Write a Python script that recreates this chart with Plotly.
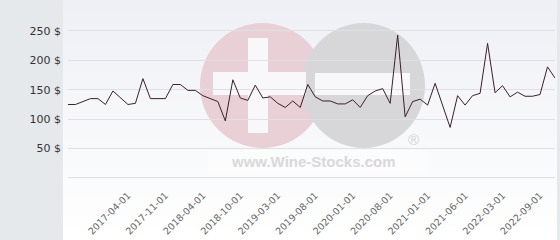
import plotly.graph_objects as go

dates = [
    "2016-07-01", "2016-08-01", "2016-09-01", "2016-10-01", "2016-11-01", "2016-12-01",
    "2017-01-01", "2017-03-01", "2017-04-01", "2017-05-01", "2017-06-01", "2017-07-01",
    "2017-09-01", "2017-11-01", "2017-12-01", "2018-01-01", "2018-02-01", "2018-03-01",
    "2018-04-01", "2018-05-01", "2018-06-01", "2018-07-01", "2018-09-01", "2018-10-01",
    "2018-11-01", "2018-12-01", "2019-01-01", "2019-02-01", "2019-03-01", "2019-04-01",
    "2019-05-01", "2019-06-01", "2019-07-01", "2019-08-01", "2019-09-01", "2019-10-01",
    "2019-11-01", "2019-12-01", "2020-01-01", "2020-02-01", "2020-03-01", "2020-06-01",
    "2020-07-01", "2020-08-01", "2020-09-01", "2020-10-01", "2020-11-01", "2020-12-01",
    "2021-01-01", "2021-02-01", "2021-03-01", "2021-04-01", "2021-05-01", "2021-06-01",
    "2021-09-01", "2021-11-01", "2021-12-01", "2022-01-01", "2022-03-01", "2022-04-01",
    "2022-05-01", "2022-06-01", "2022-07-01", "2022-09-01", "2022-10-01", "2022-11-01",
]
prices = [
    125, 125, 130, 135, 135, 125, 148, 136, 125, 127, 169, 135,
    135, 135, 159, 159, 149, 149, 140, 135, 130, 97, 167, 136,
    132, 158, 136, 138, 127, 120, 131, 120, 159, 138, 131, 131,
    126, 126, 133, 120, 140, 148, 152, 127, 243, 104, 130, 134,
    124, 161, 123, 86, 140, 124, 140, 144, 229, 145, 157, 138,
    146, 139, 139, 142, 189, 170,
]
tick_dates = ["2017-04-01", "2017-11-01", "2018-04-01", "2018-10-01", "2019-03-01",
              "2019-08-01", "2020-01-01", "2020-08-01", "2021-01-01", "2021-06-01",
              "2022-03-01", "2022-09-01"]
y_ticks = [0, 50, 100, 150, 200, 250]
y_labels = ["", "50 $", "100 $", "150 $", "200 $", "250 $"]

W, H = 560, 240
L, R, T, B = 68, 5, 0, 62
PW, PH = W - L - R, H - T - B


def px(p):
    return (p - L) / PW


def py(p):
    return (T + PH - p) / PH


shapes = []
# gradient background of plot area
n = 40
for i in range(n):
    y0 = H * i / n
    y1 = H * (i + 1) / n
    t = i / (n - 1)
    r = round(239 + (255 - 239) * t)
    g = round(240 + (255 - 240) * t)
    b = round(245 + (255 - 245) * t)
    shapes.append(dict(type="rect", xref="paper", yref="paper", layer="below",
                       x0=px(63), x1=px(557), y0=py(y1), y1=py(y0),
                       fillcolor=f"rgb({r},{g},{b})", line_width=0))
# left grey panel and right border
shapes.append(dict(type="rect", xref="paper", yref="paper", layer="below",
                   x0=px(0), x1=px(63), y0=py(240), y1=py(0),
                   fillcolor="#e6e9ec", line_width=0))
shapes.append(dict(type="rect", xref="paper", yref="paper", layer="below",
                   x0=px(557), x1=px(560), y0=py(240), y1=py(0),
                   fillcolor="#e6e9ec", line_width=0))
# watermark
shapes.append(dict(type="rect", xref="paper", yref="paper", layer="below",
                   x0=px(208), x1=px(428), y0=py(174), y1=py(150),
                   fillcolor="rgba(255,255,255,0.35)", line_width=0))
shapes.append(dict(type="circle", xref="paper", yref="paper", layer="below",
                   x0=px(200), x1=px(325), y0=py(148), y1=py(23),
                   fillcolor="#e9d0d7", line_width=0))
shapes.append(dict(type="circle", xref="paper", yref="paper", layer="below",
                   x0=px(302), x1=px(425), y0=py(148), y1=py(23),
                   fillcolor="#d7d7d9", line_width=0))
# plus
shapes.append(dict(type="rect", xref="paper", yref="paper", layer="below",
                   x0=px(248), x1=px(268), y0=py(133), y1=py(38),
                   fillcolor="#f8f8fa", line_width=0))
shapes.append(dict(type="rect", xref="paper", yref="paper", layer="below",
                   x0=px(213), x1=px(306), y0=py(95), y1=py(72),
                   fillcolor="#f8f8fa", line_width=0))
# minus
shapes.append(dict(type="rect", xref="paper", yref="paper", layer="below",
                   x0=px(315), x1=px(410), y0=py(95), y1=py(73),
                   fillcolor="#f8f8fa", line_width=0))
# baseline at 0
shapes.append(dict(type="line", xref="paper", yref="paper", layer="above",
                   x0=0, x1=1, y0=py(177.5), y1=py(177.5),
                   line=dict(color="#e0e0e0", width=1)))

annotations = [
    dict(text="<b>www.Wine-Stocks.com</b>", xref="paper", yref="paper", x=px(313), y=py(161),
         showarrow=False, font=dict(family="Liberation Sans", size=15, color="#d8d8da"),
         xanchor="center", yanchor="middle"),
    dict(text="®", xref="paper", yref="paper", x=px(413), y=py(139),
         showarrow=False, font=dict(family="Liberation Sans", size=15, color="#d3d3d5"),
         xanchor="center", yanchor="middle"),
]

fig = go.Figure()
fig.add_trace(go.Scatter(x=dates, y=prices, mode="lines", cliponaxis=False,
                         line=dict(color="#3b1f2b", width=1), hoverinfo="skip"))

fig.update_layout(
    width=W, height=H,
    margin=dict(l=L, r=R, t=T, b=B, pad=0),
    paper_bgcolor="white",
    plot_bgcolor="rgba(0,0,0,0)",
    showlegend=False,
    shapes=shapes,
    annotations=annotations,
    xaxis=dict(type="category", categoryorder="array", categoryarray=dates,
               range=[0, len(dates) - 1], tickmode="array", tickvals=tick_dates,
               ticktext=tick_dates, tickangle=-45, showgrid=False, zeroline=False,
               showline=False, ticks="", ticklabelstandoff=9,
               tickfont=dict(family="DejaVu Sans", size=9.5, color="#666666")),
    yaxis=dict(range=[0, 302.7], tickmode="array", tickvals=y_ticks, ticktext=y_labels,
               showgrid=True, gridcolor="#e0e0e0", gridwidth=1, zeroline=False,
               showline=False, ticks="", ticklabelstandoff=6,
               tickfont=dict(family="DejaVu Sans", size=11, color="#333333")),
)

fig.write_html("out.html")
